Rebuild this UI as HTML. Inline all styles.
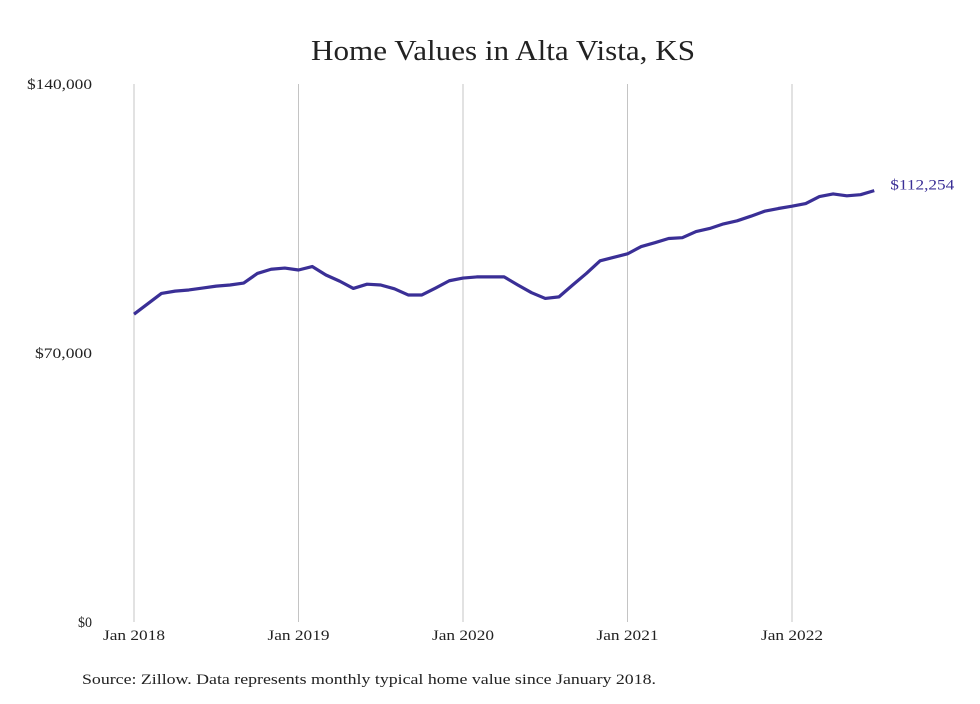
<!DOCTYPE html>
<html><head><meta charset="utf-8"><style>
body{margin:0;background:#fff;width:980px;height:699px;overflow:hidden}
svg text{font-family:"Liberation Serif",serif}
</style></head><body>
<svg width="980" height="699">
<text x="311" y="60" textLength="384" lengthAdjust="spacingAndGlyphs" font-size="29" fill="#222">Home Values in Alta Vista, KS</text>
<g id="grid"></g><g id="yticks"></g><g id="xticks"></g>
<path id="line" fill="none" stroke="#3a2f96" stroke-width="3.2" stroke-linejoin="round"/>
<text id="endlabel" font-size="15" fill="#3a2f96" textLength="64" lengthAdjust="spacingAndGlyphs"></text>
<text x="82" y="684" textLength="574" lengthAdjust="spacingAndGlyphs" font-size="15" fill="#222">Source: Zillow. Data represents monthly typical home value since January 2018.</text>
</svg>
<script>
const values=[80.1,82.8,85.5,86.1,86.4,86.9,87.4,87.7,88.2,90.7,91.8,92.1,91.6,92.5,90.3,88.7,86.8,87.9,87.7,86.7,85.1,85.1,86.9,88.8,89.5,89.8,89.8,89.8,87.7,85.7,84.2,84.6,87.7,90.7,94.0,94.9,95.8,97.7,98.7,99.8,100.0,101.6,102.4,103.6,104.4,105.6,106.9,107.6,108.2,108.9,110.7,111.4,110.9,111.2,112.254];
const yTicks=[0,70000,140000];
const yTickLabels=["$0","$70,000","$140,000"];
const xTickLabels=["Jan 2018","Jan 2019","Jan 2020","Jan 2021","Jan 2022"];
const lastLabel="$112,254";
const ns="http://www.w3.org/2000/svg";
const x=i=>134+i*(792-134)/48;
const y=v=>622-v*(622-84)/140000;
function mk(t,a,p){const e=document.createElementNS(ns,t);for(const k in a)e.setAttribute(k,a[k]);p.appendChild(e);return e;}
const grid=document.getElementById('grid'),yt=document.getElementById('yticks'),xt=document.getElementById('xticks');
xTickLabels.forEach((l,j)=>{
 const ln=mk('line',{x1:x(j*12),x2:x(j*12),y1:84,y2:622,stroke:'#c4c4c4','stroke-width':1},grid);
 
 
 const t=mk('text',{x:x(j*12)-31,y:640,textLength:62,lengthAdjust:'spacingAndGlyphs','font-size':15,fill:'#222'},xt);
 t.textContent=l;
 
 
});
const yw=[14,57,65];
yTicks.forEach((v,j)=>{
 const t=mk('text',{x:92-yw[j],y:y(v)+5,textLength:yw[j],lengthAdjust:'spacingAndGlyphs','font-size':15,fill:'#222'},yt);
 t.textContent=yTickLabels[j];
 
 
});
document.getElementById('line').setAttribute('d',values.map((v,i)=>(i?'L':'M')+x(i)+','+y(v*(v<1000?1000:1))).join(''));
const n=values.length-1,lv=values[n]*(values[n]<1000?1000:1);
const el=document.getElementById('endlabel');
el.setAttribute('x',x(n)+16);el.setAttribute('y',y(lv)-1);el.textContent=lastLabel;
</script>
</body></html>
